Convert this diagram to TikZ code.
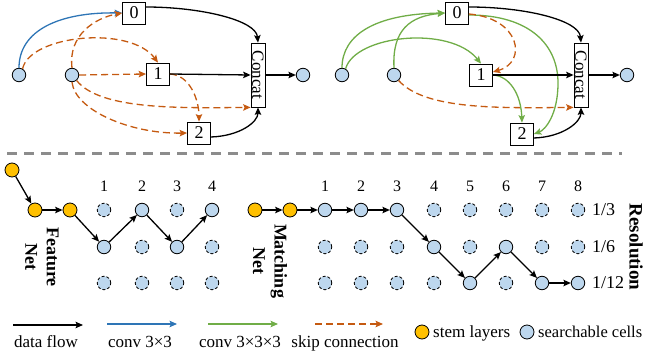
\documentclass[tikz,border=0pt]{standalone}
\usepackage{fontspec}
\setmainfont{Liberation Serif}
\usepackage{graphicx}
\usetikzlibrary{arrows.meta}
\definecolor{cskip}{HTML}{C55A11}
\definecolor{cconv}{HTML}{2E75B6}
\definecolor{cgreen}{HTML}{70AD47}
\definecolor{cellblue}{HTML}{BDD7EE}
\definecolor{stemorange}{HTML}{FFC000}
\definecolor{sepgray}{HTML}{8C8C8C}
\begin{document}
\begin{tikzpicture}[x=1pt,y=1pt,
  cell/.style={circle,draw,line width=0.8pt,fill=cellblue,minimum size=13.5pt,inner sep=0pt},
  dcell/.style={cell,dash pattern=on 3pt off 2pt},
  stem/.style={cell,fill=stemorange,minimum size=14pt},
  opbox/.style={draw,line width=0.8pt,fill=white,minimum width=23pt,minimum height=22pt,inner sep=0pt,font=\fontsize{18}{20}\selectfont},
  concatbox/.style={draw,line width=0.8pt,fill=white,minimum width=14pt,minimum height=64pt,inner sep=0pt,font=\fontsize{17}{19}\selectfont},
  arr/.style={-{Stealth[length=7.5pt,width=6.5pt,inset=1.5pt]},line width=1.3pt},
  skip/.style={arr,cskip,dash pattern=on 7pt off 4pt},
  conv/.style={arr,cconv},
  gconv/.style={arr,cgreen},
  sepline/.style={sepgray,line width=3pt,dash pattern=on 10pt off 7pt},
  collabel/.style={inner sep=0pt,font=\fontsize{16}{18}\selectfont},
  rowlabel/.style={anchor=west,inner sep=0pt,font=\fontsize{18}{20}\selectfont},
  netlabel/.style={rotate=-90,align=center,inner sep=0pt,font=\bfseries\fontsize{18}{21.5}\selectfont},
  legtext/.style={inner sep=0pt,font=\fontsize{17}{19}\selectfont}
]
\useasboundingbox (0,0) rectangle (645,-356);

% ---------- top left cell ----------
\node[cell] (A1) at (19,-75) {};
\node[cell] (B1) at (72,-75) {};
\node[opbox] (O0) at (134,-13) {0};
\node[opbox] (O1) at (158,-74) {1};
\node[opbox] (O2) at (199,-133) {2};
\node[concatbox] (C1) at (258,-75) {\rotatebox{-90}{Concat}};
\node[cell] (Out1) at (303,-75) {};

\draw[conv] (A1.north) .. controls (19,-30) and (60,-12) .. (O0.west);
\draw[skip] (A1.60) .. controls (30,-35) and (130,-25) .. (O1.north);
\draw[skip] (B1.north) .. controls (68,-35) and (95,-18) .. (O0.west);
\draw[skip] (B1.east) -- (O1.west);
\draw[skip] (B1.-50) .. controls (100,-110) and (180,-108) .. (C1.south west);
\draw[skip] (B1.south) .. controls (75,-110) and (130,-134) .. (O2.west);
\draw[skip] (O1.east) .. controls (190,-75) and (199,-100) .. (O2.north);
\draw[arr] ([yshift=6pt]O0.east) .. controls (200,-7) and (256,-20) .. (C1.north);
\draw[arr] (O1.east) -- (C1.west);
\draw[arr] ([yshift=-4pt]O2.east) .. controls (240,-136) and (258,-122) .. (C1.south);
\draw[arr] (C1.east) -- (Out1.west);

% ---------- top right cell ----------
\node[cell] (A2) at (342,-75) {};
\node[cell] (B2) at (394,-75) {};
\node[opbox] (P0) at (457,-13) {0};
\node[opbox] (P1) at (481,-75) {1};
\node[opbox] (P2) at (522,-134) {2};
\node[concatbox] (C2) at (581,-75) {\rotatebox{-90}{Concat}};
\node[cell] (Out2) at (627,-75) {};

\draw[gconv] (A2.north) .. controls (342,-35) and (375,-14) .. (P0.west);
\draw[gconv] (A2.60) .. controls (355,-35) and (450,-25) .. (P1.north);
\draw[gconv] (B2.north) .. controls (392,-30) and (410,-16) .. (P0.west);
\draw[gconv] ([yshift=-2pt]P0.east) .. controls (530,-15) and (558,-45) .. (558,-83) .. controls (558,-115) and (545,-130) .. (P2.east);
\draw[skip] ([yshift=-1pt]P0.east) .. controls (520,-18) and (528,-62) .. ([yshift=3pt]P1.east);
\draw[skip] (B2.-50) .. controls (425,-110) and (500,-108) .. (C2.south west);
\draw[gconv] (P1.east) .. controls (510,-76) and (521,-95) .. (P2.north);
\draw[arr] ([yshift=6pt]P0.east) .. controls (525,-7) and (579,-20) .. (C2.north);
\draw[arr] (P1.east) -- (C2.west);
\draw[arr] ([yshift=-4pt]P2.east) .. controls (563,-137) and (581,-122) .. (C2.south);
\draw[arr] (C2.east) -- (Out2.west);

% ---------- separator ----------
\coordinate (sepL) at (7,-153);
\coordinate (sepR) at (622,-153);
\draw[sepline] (sepL) -- (sepR);

% ---------- feature net ----------
\node[stem] (S1) at (12,-170) {};
\node[stem] (S2) at (35,-210) {};
\node[stem] (S3) at (70,-210) {};
\foreach \i/\x/\a in {1/104/2,2/142/1,3/177/2,4/212/1}{
  \node[collabel] (fl\i) at (\x,-186) {\i};
  \foreach \j/\y in {1/210,2/247,3/283}{
    \ifnum\j=\a
      \node[cell] (f\i-\j) at (\x,-\y) {};
    \else
      \node[dcell] (f\i-\j) at (\x,-\y) {};
    \fi
  }
}
\draw[arr] (S1) -- (S2);
\draw[arr] (S2) -- (S3);
\draw[arr] (S3) -- (f1-2);
\draw[arr] (f1-2) -- (f2-1);
\draw[arr] (f2-1) -- (f3-2);
\draw[arr] (f3-2) -- (f4-1);
\node[netlabel] (fnet) at (42,-257) {Feature\\Net};

% ---------- matching net ----------
\node[stem] (M1) at (255,-210) {};
\node[stem] (M2) at (290,-210) {};
\foreach \i/\x/\a in {1/325/1,2/361/1,3/397/1,4/434/2,5/470/3,6/506/2,7/542/3,8/578/3}{
  \node[collabel] (ml\i) at (\x,-186) {\i};
  \foreach \j/\y in {1/210,2/247,3/283}{
    \ifnum\j=\a
      \node[cell] (m\i-\j) at (\x,-\y) {};
    \else
      \node[dcell] (m\i-\j) at (\x,-\y) {};
    \fi
  }
}
\draw[arr] (M1) -- (M2);
\draw[arr] (M2) -- (m1-1);
\draw[arr] (m1-1) -- (m2-1);
\draw[arr] (m2-1) -- (m3-1);
\draw[arr] (m3-1) -- (m4-2);
\draw[arr] (m4-2) -- (m5-3);
\draw[arr] (m5-3) -- (m6-2);
\draw[arr] (m6-2) -- (m7-3);
\draw[arr] (m7-3) -- (m8-3);
\node[netlabel] (mnet) at (270,-261) {Matching\\Net};

\node[rowlabel] (r1) at (592,-210) {1/3};
\node[rowlabel] (r2) at (592,-247) {1/6};
\node[rowlabel] (r3) at (592,-283) {1/12};
\node[rotate=-90,inner sep=0pt,font=\bfseries\fontsize{19}{22}\selectfont] (res) at (636,-247) {Resolution};

% ---------- legend ----------
\coordinate (l1s) at (13,-325); \coordinate (l1e) at (83,-325);
\draw[arr] (l1s) -- (l1e);
\node[legtext,anchor=base] (lt1) at (46,-347) {data flow};
\coordinate (l2s) at (107,-324); \coordinate (l2e) at (177,-324);
\draw[conv] (l2s) -- (l2e);
\node[legtext,anchor=base] (lt2) at (140,-347) {conv 3×3};
\coordinate (l3s) at (208,-324); \coordinate (l3e) at (278,-324);
\draw[gconv] (l3s) -- (l3e);
\node[legtext,anchor=base] (lt3) at (240,-347) {conv 3×3×3};
\coordinate (l4s) at (315,-324); \coordinate (l4e) at (383,-324);
\draw[skip] (l4s) -- (l4e);
\node[legtext,anchor=base] (lt4) at (345,-347) {skip connection};
\node[stem] (lstem) at (422,-332) {};
\node[legtext,anchor=base west] (lt5) at (433,-337) {stem layers};
\node[cell,minimum size=14pt] (lcell) at (527,-332) {};
\node[legtext,anchor=base west,font=\fontsize{16.5}{19}\selectfont] (lt6) at (538,-337) {searchable cells};
\end{tikzpicture}
\end{document}
